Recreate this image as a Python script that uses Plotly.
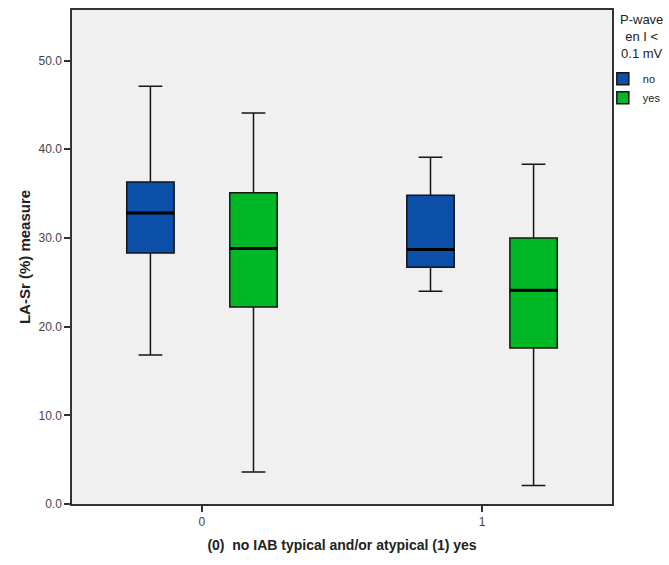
import plotly.graph_objects as go

groups = [0, 1]
group_labels = ["0", "1"]
series_names = ["no", "yes"]

# Box statistics per series: [group 0, group 1]
no_upper = [47.1, 39.1]
no_q3 = [36.3, 34.8]
no_median = [32.8, 28.7]
no_q1 = [28.3, 26.7]
no_lower = [16.8, 24.0]

yes_upper = [44.1, 38.3]
yes_q3 = [35.1, 30.0]
yes_median = [28.8, 24.1]
yes_q1 = [22.2, 17.6]
yes_lower = [3.6, 2.1]

y_ticks = [0, 10, 20, 30, 40, 50]

legend_title = "P-wave<br>en I <<br>0.1 mV"

colors = {"no": "#0b4fa8", "yes": "#00b826"}

fig = go.Figure()
stats = {
    "no": (no_lower, no_q1, no_median, no_q3, no_upper),
    "yes": (yes_lower, yes_q1, yes_median, yes_q3, yes_upper),
}
for name in series_names:
    lo, q1, med, q3, up = stats[name]
    fig.add_trace(go.Box(
        name=name,
        x=groups,
        offsetgroup=name,
        lowerfence=lo, q1=q1, median=med, q3=q3, upperfence=up,
        fillcolor=colors[name],
        line=dict(color="#151515", width=1.5),
        whiskerwidth=0.5,
        boxpoints=False,
        hoverinfo="skip",
    ))
for name in series_names:
    med = stats[name][2]
    # thick black median line, drawn as a degenerate box at the median
    fig.add_trace(go.Box(
        name=name + " median",
        x=groups,
        offsetgroup=name,
        lowerfence=med, q1=med, median=med, q3=med, upperfence=med,
        fillcolor="rgba(0,0,0,0)",
        line=dict(color="#000000", width=3),
        whiskerwidth=0,
        boxpoints=False,
        hoverinfo="skip",
        showlegend=False,
    ))

fig.add_annotation(
    text=legend_title, xref="paper", yref="paper",
    x=1.054, y=1.0, xanchor="center", yanchor="top",
    align="center", showarrow=False,
    font=dict(size=13, color="#222222"),
)

fig.update_layout(
    width=669, height=565,
    margin=dict(l=72, r=57, t=10, b=61, autoexpand=False),
    paper_bgcolor="white",
    plot_bgcolor="#f0f0f0",
    boxmode="group",
    boxgap=0.264,
    boxgroupgap=0.54,
    font=dict(family="Liberation Sans, Arial, sans-serif", color="#222222"),
    legend=dict(
        x=0.983, xanchor="left", y=0.89, yanchor="top",
        font=dict(size=11, color="#222222"),
        bgcolor="rgba(0,0,0,0)",
        itemwidth=30,
        tracegroupgap=0,
    ),
    showlegend=True,
)
fig.update_xaxes(
    range=[-0.464, 1.464],
    tickmode="array", tickvals=groups, ticktext=group_labels,
    ticks="outside", ticklen=6, tickcolor="#333333", tickwidth=1.5,
    tickfont=dict(size=12, color="#444444"),
    showgrid=False, zeroline=False,
    showline=True, linecolor="#333333", linewidth=1.5, mirror=True,
    title=dict(text="<b>(0)  no IAB typical and/or atypical (1) yes</b>",
               font=dict(size=14, color="#222222"), standoff=12),
)
fig.update_yaxes(
    range=[0, 55.7],
    tickmode="array", tickvals=y_ticks, tickformat=".1f",
    ticks="outside", ticklen=6, tickcolor="#333333", tickwidth=1.5,
    tickfont=dict(size=12, color="#444444"),
    showgrid=False, zeroline=False,
    showline=True, linecolor="#333333", linewidth=1.5, mirror=True,
    title=dict(text="<b>LA-Sr (%) measure</b>",
               font=dict(size=15, color="#222222"), standoff=4),
)

fig.write_html("out.html")
